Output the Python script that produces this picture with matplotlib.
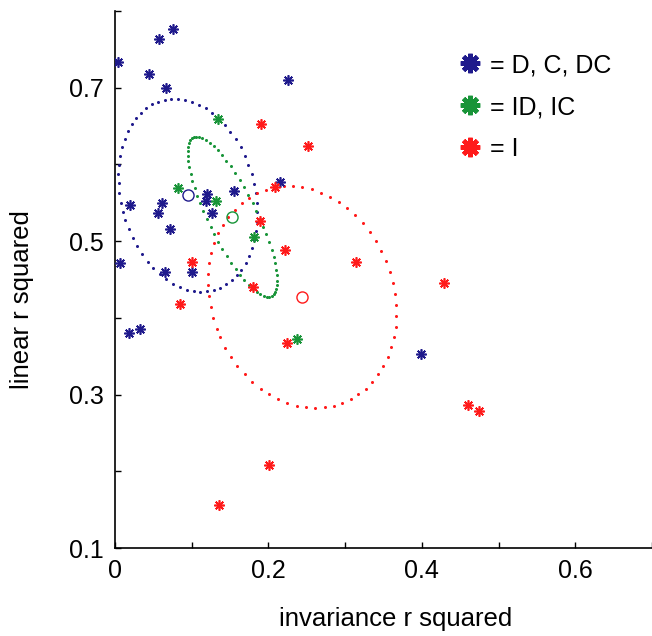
import numpy as np
import matplotlib
matplotlib.use("Agg")
import matplotlib.pyplot as plt
from matplotlib.lines import Line2D

plt.rcParams['font.family'] = ['Liberation Sans', 'DejaVu Sans']

# Scatter data: (invariance r^2, linear r^2) per group
dc_x = [0.075, 0.057, 0.004, 0.044, 0.066, 0.225, 0.215, 0.155, 0.120, 0.118,
        0.127, 0.061, 0.056, 0.019, 0.072, 0.007, 0.065, 0.101, 0.018, 0.032, 0.399]
dc_y = [0.776, 0.763, 0.734, 0.718, 0.700, 0.710, 0.577, 0.566, 0.562, 0.552,
        0.537, 0.550, 0.537, 0.547, 0.516, 0.472, 0.460, 0.460, 0.380, 0.385, 0.353]

idc_x = [0.134, 0.082, 0.132, 0.181, 0.237]
idc_y = [0.659, 0.569, 0.552, 0.505, 0.373]

i_x = [0.190, 0.251, 0.208, 0.189, 0.222, 0.100, 0.085, 0.180, 0.224, 0.201,
       0.136, 0.314, 0.429, 0.460, 0.475]
i_y = [0.653, 0.624, 0.570, 0.526, 0.488, 0.473, 0.418, 0.440, 0.367, 0.208,
       0.156, 0.473, 0.445, 0.287, 0.278]

# Group means and spread ellipses (sd x, sd y, correlation)
mean_x = [0.095, 0.153, 0.244]
mean_y = [0.560, 0.532, 0.427]
sd_x = [0.0905, 0.0583, 0.1227]
sd_y = [0.1258, 0.1044, 0.1445]
rho = [-0.19, -0.80, -0.14]

labels = ['= D, C, DC', '= ID, IC', '= I']
colors = ['#1f1a8c', '#189438', '#ff1a1a']

x_ticks = [0, 0.1, 0.2, 0.3, 0.4, 0.5, 0.6, 0.7]
x_ticklabels = ['0', '', '0.2', '', '0.4', '', '0.6', '']
y_ticks = [0.1, 0.2, 0.3, 0.4, 0.5, 0.6, 0.7, 0.8]
y_ticklabels = ['0.1', '', '0.3', '', '0.5', '', '0.7', '']

asterisk = (8, 2, 0)

fig = plt.figure(figsize=(6.52, 6.36), dpi=100)
ax = fig.add_axes([115 / 652, 88 / 636, 537 / 652, 537 / 636])


def ellipse_points(cx, cy, sx, sy, r):
    cov = np.array([[sx * sx, r * sx * sy], [r * sx * sy, sy * sy]])
    vals, vecs = np.linalg.eigh(cov)
    t = np.arange(0, 2 * np.pi, 0.1)
    circ = np.vstack((np.cos(t), np.sin(t)))
    pts = vecs @ np.diag(np.sqrt(vals)) @ circ
    return cx + pts[0], cy + pts[1]


# ellipses first, stars on top
for i in range(3):
    ex, ey = ellipse_points(mean_x[i], mean_y[i], sd_x[i], sd_y[i], rho[i])
    ax.plot(ex, ey, 'o', color=colors[i], ms=2.2, mew=0, zorder=2)

groups = [(dc_x, dc_y), (idc_x, idc_y), (i_x, i_y)]
for (gx, gy), c in zip(groups, colors):
    ax.plot(gx, gy, linestyle='none', marker=asterisk, color=c,
            ms=7.5, mew=1.2, zorder=3)

for i in range(3):
    ax.plot(mean_x[i], mean_y[i], 'o', mfc='none', mec=colors[i],
            ms=8, mew=1.0, zorder=4)

handles = [Line2D([], [], linestyle='none', marker=asterisk, color=c,
                  ms=14, mew=3.2) for c in colors]
ax.legend(handles, labels, loc='upper left', bbox_to_anchor=(0.615, 0.94),
          frameon=False, fontsize=18, handletextpad=0.2, labelspacing=0.72,
          handlelength=1.2, borderaxespad=0)

ax.set_xlim(0, 0.7)
ax.set_ylim(0.1, 0.8)
ax.set_xticks(x_ticks)
ax.set_xticklabels(x_ticklabels)
ax.set_yticks(y_ticks)
ax.set_yticklabels(y_ticklabels)
ax.tick_params(direction='in', length=4, width=1, labelsize=18, pad=8)
ax.spines['top'].set_visible(False)
ax.spines['right'].set_visible(False)
for s in ['left', 'bottom']:
    ax.spines[s].set_linewidth(1.2)

ax.set_xlabel('invariance r squared', fontsize=18.5)
ax.set_ylabel('linear r squared', fontsize=18.5)
ax.xaxis.set_label_coords(0.523, -0.11)
ax.yaxis.set_label_coords(-0.15, 0.462)

fig.savefig('out.png', dpi=100)
